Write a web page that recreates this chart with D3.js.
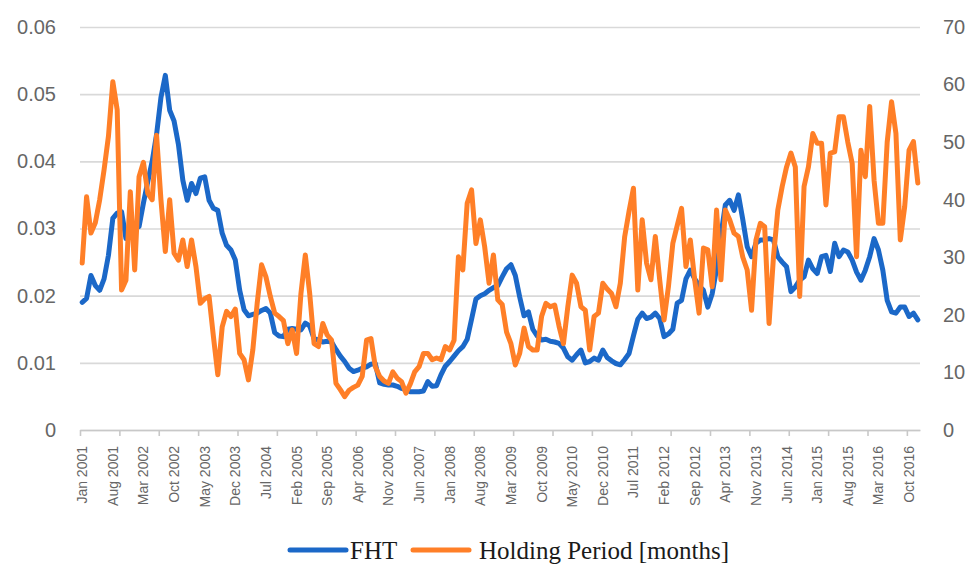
<!DOCTYPE html>
<html lang="en">
<head>
    <meta charset="UTF-8">
    <title>FHT vs Holding Period</title>
    <style>
        body { margin: 0; background: #fff; }
        svg { display: block; }
    </style>
    <script src="https://d3js.org/d3.v7.min.js"></script>
</head>
<body>
    <div id="chart"></div>

    <script>
        const width = 970;
        const height = 570;

        // Monthly observations, Jan 2001 .. Dec 2016
        const months = d3.timeMonths(new Date(2001, 0, 1), new Date(2017, 0, 1));

        // FHT (left axis)
        const fht = [
            0.0190, 0.0196, 0.0230, 0.0215, 0.0208, 0.0225, 0.0260, 0.0315, 0.0323, 0.0325, 0.0285, 0.0295,
            0.0300, 0.0303, 0.0338, 0.0370, 0.0400, 0.0440, 0.0495, 0.0528, 0.0476, 0.0460, 0.0425, 0.0372,
            0.0342, 0.0367, 0.0352, 0.0375, 0.0377, 0.0342, 0.0330, 0.0327, 0.0293, 0.0275, 0.0268, 0.0253,
            0.0208, 0.0179, 0.0170, 0.0172, 0.0174, 0.0178, 0.0181, 0.0174, 0.0145, 0.0140, 0.0139, 0.0150,
            0.0151, 0.0150, 0.0149, 0.0159, 0.0155, 0.0136, 0.0134, 0.0131, 0.0132, 0.0131, 0.0120, 0.0110,
            0.0102, 0.0092, 0.0087, 0.0089, 0.0092, 0.0094, 0.0098, 0.0099, 0.0070, 0.0068, 0.0067, 0.0067,
            0.0065, 0.0062, 0.0060, 0.0057, 0.0057, 0.0057, 0.0058, 0.0072, 0.0065, 0.0066, 0.0082, 0.0095,
            0.0102, 0.0110, 0.0118, 0.0124, 0.0135, 0.0165, 0.0195, 0.0200, 0.0203, 0.0208, 0.0212, 0.0215,
            0.0228, 0.0240, 0.0246, 0.0230, 0.0198, 0.0170, 0.0176, 0.0150, 0.0140, 0.0134, 0.0135, 0.0132,
            0.0131, 0.0129, 0.0122, 0.0109, 0.0104, 0.0112, 0.0119, 0.0100, 0.0102, 0.0107, 0.0104, 0.0119,
            0.0108, 0.0103, 0.0099, 0.0097, 0.0105, 0.0114, 0.0140, 0.0165, 0.0174, 0.0166, 0.0168, 0.0174,
            0.0166, 0.0139, 0.0143, 0.0150, 0.0189, 0.0193, 0.0225, 0.0238, 0.0225, 0.0215, 0.0208, 0.0183,
            0.0203, 0.0240, 0.0290, 0.0335, 0.0342, 0.0327, 0.0350, 0.0313, 0.0273, 0.0258, 0.0278, 0.0283,
            0.0283, 0.0285, 0.0283, 0.0258, 0.0250, 0.0243, 0.0206, 0.0213, 0.0223, 0.0228, 0.0253, 0.0240,
            0.0233, 0.0258, 0.0260, 0.0236, 0.0278, 0.0258, 0.0268, 0.0265, 0.0253, 0.0235, 0.0223, 0.0238,
            0.0258, 0.0285, 0.0268, 0.0238, 0.0193, 0.0176, 0.0174, 0.0183, 0.0183, 0.0169, 0.0174, 0.0164
        ];

        // Holding period in months (right axis)
        const holding = [
            29.0, 40.5, 34.2, 36.0, 40.0, 45.2, 51.0, 60.5, 55.6, 24.3, 26.0, 41.4,
            27.8, 44.0, 46.5, 41.1, 40.0, 51.2, 40.0, 31.0, 40.0, 30.7, 29.5, 33.0,
            28.4, 33.0, 28.4, 22.0, 22.8, 23.2, 16.2, 9.6, 17.9, 20.6, 19.7, 21.0,
            13.3, 12.2, 8.7, 13.9, 22.0, 28.7, 26.6, 23.2, 20.3, 19.7, 19.0, 15.0,
            17.4, 13.3, 23.7, 30.4, 23.7, 15.0, 14.5, 18.5, 16.5, 15.6, 8.1, 7.0,
            5.8, 6.9, 7.4, 7.8, 9.3, 15.6, 15.9, 11.0, 9.3, 8.5, 8.1, 10.1,
            9.0, 8.4, 6.4, 8.0, 10.1, 11.0, 13.3, 13.3, 12.2, 12.5, 12.2, 14.5,
            13.9, 15.6, 30.1, 27.8, 39.4, 41.7, 32.4, 36.5, 31.8, 25.5, 30.4, 22.6,
            21.8, 17.0, 15.0, 11.3, 13.3, 17.7, 14.5, 13.9, 13.9, 19.7, 22.0, 21.4,
            21.7, 18.0, 15.0, 21.4, 26.9, 25.5, 21.4, 20.8, 13.9, 19.7, 20.3, 25.5,
            24.5, 23.7, 21.4, 25.5, 33.6, 38.0, 42.0, 24.3, 36.5, 29.0, 26.1, 33.6,
            26.1, 19.1, 24.9, 32.4, 35.5, 38.5, 28.4, 33.0, 26.1, 20.3, 31.6, 31.3,
            24.9, 38.2, 26.1, 38.2, 36.5, 34.2, 33.6, 30.0, 27.8, 20.8, 33.0, 35.9,
            35.3, 18.5, 30.0, 38.2, 42.3, 45.7, 48.1, 45.7, 23.2, 42.3, 45.7, 51.5,
            49.8, 49.8, 39.1, 48.1, 48.3, 54.4, 54.4, 50.0, 46.3, 30.1, 48.6, 44.0,
            56.2, 43.4, 35.9, 35.9, 50.0, 57.0, 51.5, 33.0, 38.8, 48.6, 50.1, 42.9
        ];

        // Category labels shown on the x axis (every 7th month)
        const xLabels = [
            "Jan 2001", "Aug 2001", "Mar 2002", "Oct 2002", "May 2003", "Dec 2003", "Jul 2004",
            "Feb 2005", "Sep 2005", "Apr 2006", "Nov 2006", "Jun 2007", "Jan 2008", "Aug 2008",
            "Mar 2009", "Oct 2009", "May 2010", "Dec 2010", "Jul 2011", "Feb 2012", "Sep 2012",
            "Apr 2013", "Nov 2013", "Jun 2014", "Jan 2015", "Aug 2015", "Mar 2016", "Oct 2016"
        ];
        const leftTicks = [0, 0.01, 0.02, 0.03, 0.04, 0.05, 0.06];
        const rightTicks = [0, 10, 20, 30, 40, 50, 60, 70];

        const seriesNames = ["FHT", "Holding Period [months]"];
        const colors = ["#1b68c8", "#ff7f27"];

        const plot = { left: 80, right: 920, top: 27, bottom: 430 };

        const svg = d3.select("#chart")
            .append("svg")
            .attr("width", width)
            .attr("height", height);

        svg.append("rect").attr("width", width).attr("height", height).attr("fill", "#fff");

        // Scales
        const x = d3.scaleBand()
            .domain(d3.range(months.length))
            .range([plot.left, plot.right])
            .padding(0);
        const xEdge = d3.scaleLinear()
            .domain([0, months.length])
            .range([plot.left, plot.right]);
        const yLeft = d3.scaleLinear().domain([0, 0.06]).range([plot.bottom, plot.top]);
        const yRight = d3.scaleLinear().domain([0, 70]).range([plot.bottom, plot.top]);

        // Gridlines
        svg.append("g")
            .attr("transform", `translate(${plot.left},0)`)
            .call(d3.axisLeft(yLeft).tickValues(leftTicks).tickSize(-(plot.right - plot.left)).tickFormat(""))
            .call(g => g.select(".domain").remove())
            .call(g => g.selectAll("line").attr("stroke", "#d9d9d9").attr("stroke-width", 1.6));

        // Left axis labels
        svg.append("g")
            .attr("transform", `translate(56,0)`)
            .call(d3.axisLeft(yLeft).tickValues(leftTicks).tickSize(0)
                .tickFormat(d => d === 0 ? "0" : d3.format(".2f")(d)))
            .call(g => g.select(".domain").remove())
            .call(g => g.selectAll("text")
                .attr("x", 0)
                .attr("fill", "#666")
                .style("font-family", "'Liberation Sans', Arial, sans-serif")
                .style("font-size", "20px"));

        // Right axis labels
        svg.append("g")
            .attr("transform", `translate(943,0)`)
            .call(d3.axisRight(yRight).tickValues(rightTicks).tickSize(0))
            .call(g => g.select(".domain").remove())
            .call(g => g.selectAll("text")
                .attr("x", 0)
                .attr("fill", "#666")
                .style("font-family", "'Liberation Sans', Arial, sans-serif")
                .style("font-size", "20px"));

        // Bottom axis line and tick marks (every 9 months)
        svg.append("g")
            .attr("transform", `translate(0,${plot.bottom})`)
            .call(d3.axisBottom(xEdge).tickValues(d3.range(0, months.length, 9))
                .tickSize(6).tickSizeOuter(0).tickFormat(""))
            .call(g => g.select(".domain").attr("stroke", "#c8c8c8").attr("stroke-width", 1.6))
            .call(g => g.selectAll(".tick line").attr("stroke", "#c8c8c8").attr("stroke-width", 1.6));

        // Rotated month labels
        const labelIdx = xLabels.map((d, i) => i * 7);
        svg.append("g")
            .attr("transform", `translate(0,${plot.bottom})`)
            .call(d3.axisBottom(x).tickValues(labelIdx).tickSize(0)
                .tickFormat((d, i) => xLabels[i]))
            .call(g => g.select(".domain").remove())
            .call(g => g.selectAll("text")
                .attr("transform", "rotate(-90)")
                .attr("text-anchor", "end")
                .attr("x", -16)
                .attr("y", 0)
                .attr("dy", "0.36em")
                .attr("fill", "#666")
                .style("font-family", "'Liberation Sans', Arial, sans-serif")
                .style("font-size", "14px"));

        // Lines
        const cx = i => x(i) + x.bandwidth() / 2;
        const fhtLine = d3.line().x((d, i) => cx(i)).y(d => yLeft(d));
        const holdLine = d3.line().x((d, i) => cx(i)).y(d => yRight(d));

        svg.append("path")
            .datum(fht)
            .attr("fill", "none")
            .attr("stroke", colors[0])
            .attr("stroke-width", 5)
            .attr("stroke-linejoin", "round")
            .attr("stroke-linecap", "round")
            .attr("d", fhtLine);

        svg.append("path")
            .datum(holding)
            .attr("fill", "none")
            .attr("stroke", colors[1])
            .attr("stroke-width", 5)
            .attr("stroke-linejoin", "round")
            .attr("stroke-linecap", "round")
            .attr("d", holdLine);

        // Legend
        const legend = svg.append("g").attr("transform", "translate(0,550)");
        const legendX = [290, 413];
        seriesNames.forEach((name, i) => {
            legend.append("line")
                .attr("x1", legendX[i]).attr("x2", legendX[i] + 56)
                .attr("y1", 0).attr("y2", 0)
                .attr("stroke", colors[i])
                .attr("stroke-width", 5)
                .attr("stroke-linecap", "round");
            legend.append("text")
                .attr("x", legendX[i] + (i === 0 ? 60 : 66))
                .attr("y", 9)
                .attr("fill", "#1a1a1a")
                .style("font-family", "'Liberation Serif', 'Times New Roman', serif")
                .style("font-size", "25px")
                .text(name);
        });
    </script>
</body>
</html>
